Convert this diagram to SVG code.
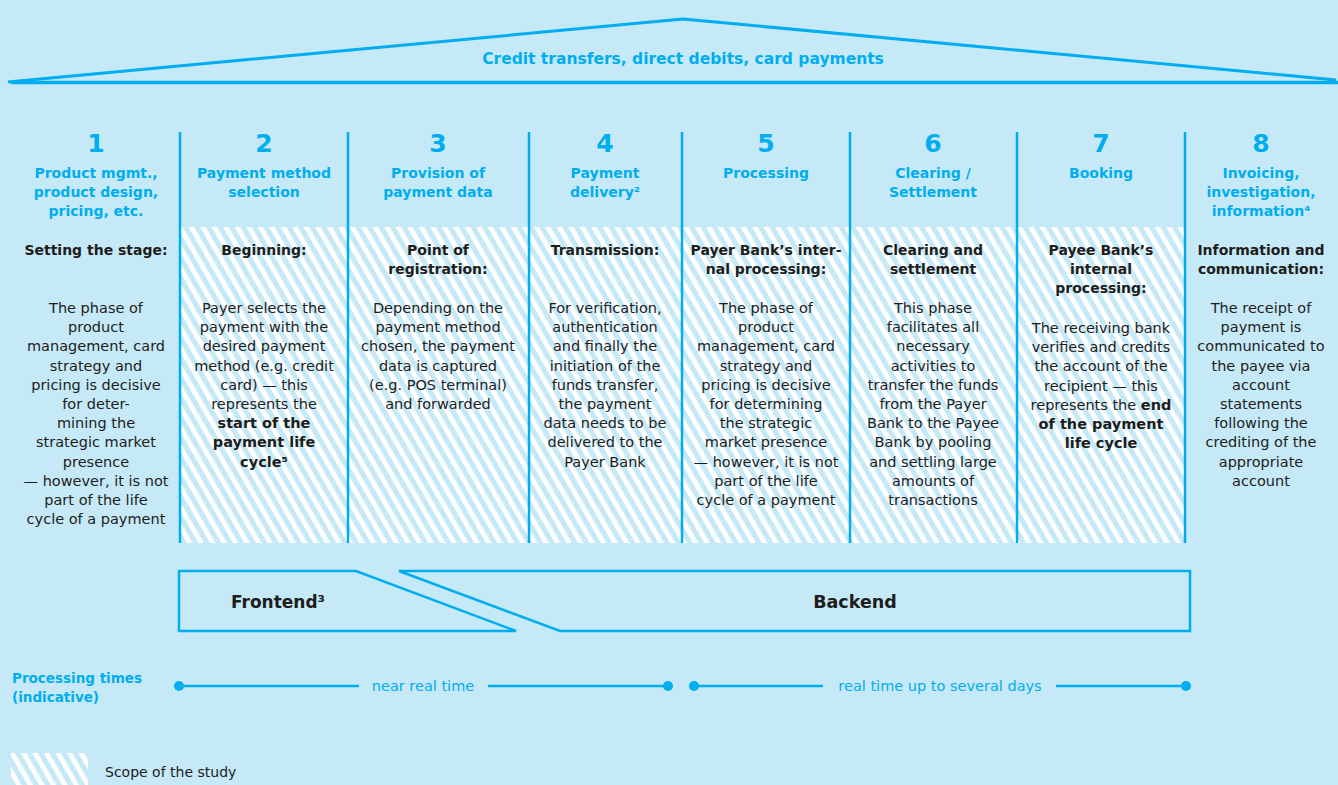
<svg xmlns="http://www.w3.org/2000/svg" width="1338" height="785" viewBox="0 0 1338 785">
<style>
text{font-family:"DejaVu Sans","Liberation Sans",sans-serif}
.num{font-size:25px;font-weight:bold;fill:#00aeef;text-anchor:middle}
.ttl{font-size:14px;font-weight:bold;fill:#00aeef;text-anchor:middle}
.hd{font-size:14px;font-weight:bold;fill:#1d1d1b;text-anchor:middle}
.bd{font-size:14.5px;fill:#1d1d1b;text-anchor:middle}
.b{font-weight:bold}
.line{stroke:#00aeef;fill:none}
.div{stroke:#00aeef;stroke-width:2.5}
.box{stroke:#00aeef;stroke-width:2.5;fill:none;stroke-linejoin:miter}
.dot{fill:#00aeef}
</style>
<defs>
<pattern id="hatch" patternUnits="userSpaceOnUse" width="11.5" height="20" patternTransform="skewX(30)">
<rect x="0" y="0" width="11.5" height="20" fill="#c6e9f8"/>
<rect x="0" y="0" width="5.5" height="20" fill="#ffffff"/>
</pattern>
</defs>
<rect x="0" y="0" width="1338" height="785" fill="#c6e9f8"/>

<g id="roof">
<polyline class="line" stroke-width="3" points="8,82 683,19 1336,80"/>
<line class="line" stroke-width="3.5" x1="11" y1="82.5" x2="1338" y2="82.5"/>
<text x="683" y="64" class="ttl" style="font-size:15.5px">Credit transfers, direct debits, card payments</text>
</g>

<g id="scope-hatch">
<rect x="180" y="227" width="1005" height="316" fill="url(#hatch)"/>
</g>

<g id="dividers">
<line class="div" x1="180" y1="132" x2="180" y2="543"/>
<line class="div" x1="348" y1="132" x2="348" y2="543"/>
<line class="div" x1="529" y1="132" x2="529" y2="543"/>
<line class="div" x1="682" y1="132" x2="682" y2="543"/>
<line class="div" x1="850" y1="132" x2="850" y2="543"/>
<line class="div" x1="1017" y1="132" x2="1017" y2="543"/>
<line class="div" x1="1185" y1="132" x2="1185" y2="543"/>
</g>

<g id="col1">
<text x="96" y="152" class="num">1</text>
<text class="ttl"><tspan x="96" y="178">Product mgmt.,</tspan><tspan x="96" dy="19">product design,</tspan><tspan x="96" dy="19">pricing, etc.</tspan></text>
<text x="96" y="255" class="hd">Setting the stage:</text>
<text class="bd"><tspan x="96" y="313">The phase of</tspan><tspan x="96" dy="19.2">product</tspan><tspan x="96" dy="19.2">management, card</tspan><tspan x="96" dy="19.2">strategy and</tspan><tspan x="96" dy="19.2">pricing is decisive</tspan><tspan x="96" dy="19.2">for deter-</tspan><tspan x="96" dy="19.2">mining the</tspan><tspan x="96" dy="19.2">strategic market</tspan><tspan x="96" dy="19.2">presence</tspan><tspan x="96" dy="19.2">— however, it is not</tspan><tspan x="96" dy="19.2">part of the life</tspan><tspan x="96" dy="19.2">cycle of a payment</tspan></text>
</g>

<g id="col2">
<text x="264" y="152" class="num">2</text>
<text class="ttl"><tspan x="264" y="178">Payment method</tspan><tspan x="264" dy="19">selection</tspan></text>
<text x="264" y="255" class="hd">Beginning:</text>
<text class="bd"><tspan x="264" y="313">Payer selects the</tspan><tspan x="264" dy="19.2">payment with the</tspan><tspan x="264" dy="19.2">desired payment</tspan><tspan x="264" dy="19.2">method (e.g. credit</tspan><tspan x="264" dy="19.2">card) — this</tspan><tspan x="264" dy="19.2">represents the</tspan><tspan x="264" dy="19.2" class="b">start of the</tspan><tspan x="264" dy="19.2" class="b">payment life</tspan><tspan x="264" dy="19.2" class="b">cycle⁵</tspan></text>
</g>

<g id="col3">
<text x="438" y="152" class="num">3</text>
<text class="ttl"><tspan x="438" y="178">Provision of</tspan><tspan x="438" dy="19">payment data</tspan></text>
<text class="hd"><tspan x="438" y="255">Point of</tspan><tspan x="438" dy="19">registration:</tspan></text>
<text class="bd"><tspan x="438" y="313">Depending on the</tspan><tspan x="438" dy="19.2">payment method</tspan><tspan x="438" dy="19.2">chosen, the payment</tspan><tspan x="438" dy="19.2">data is captured</tspan><tspan x="438" dy="19.2">(e.g. POS terminal)</tspan><tspan x="438" dy="19.2">and forwarded</tspan></text>
</g>

<g id="col4">
<text x="605" y="152" class="num">4</text>
<text class="ttl"><tspan x="605" y="178">Payment</tspan><tspan x="605" dy="19">delivery²</tspan></text>
<text x="605" y="255" class="hd">Transmission:</text>
<text class="bd"><tspan x="605" y="313">For verification,</tspan><tspan x="605" dy="19.2">authentication</tspan><tspan x="605" dy="19.2">and finally the</tspan><tspan x="605" dy="19.2">initiation of the</tspan><tspan x="605" dy="19.2">funds transfer,</tspan><tspan x="605" dy="19.2">the payment</tspan><tspan x="605" dy="19.2">data needs to be</tspan><tspan x="605" dy="19.2">delivered to the</tspan><tspan x="605" dy="19.2">Payer Bank</tspan></text>
</g>

<g id="col5">
<text x="766" y="152" class="num">5</text>
<text x="766" y="178" class="ttl">Processing</text>
<text class="hd"><tspan x="766" y="255">Payer Bank’s inter-</tspan><tspan x="766" dy="19">nal processing:</tspan></text>
<text class="bd"><tspan x="766" y="313">The phase of</tspan><tspan x="766" dy="19.2">product</tspan><tspan x="766" dy="19.2">management, card</tspan><tspan x="766" dy="19.2">strategy and</tspan><tspan x="766" dy="19.2">pricing is decisive</tspan><tspan x="766" dy="19.2">for determining</tspan><tspan x="766" dy="19.2">the strategic</tspan><tspan x="766" dy="19.2">market presence</tspan><tspan x="766" dy="19.2">— however, it is not</tspan><tspan x="766" dy="19.2">part of the life</tspan><tspan x="766" dy="19.2">cycle of a payment</tspan></text>
</g>

<g id="col6">
<text x="933" y="152" class="num">6</text>
<text class="ttl"><tspan x="933" y="178">Clearing /</tspan><tspan x="933" dy="19">Settlement</tspan></text>
<text class="hd"><tspan x="933" y="255">Clearing and</tspan><tspan x="933" dy="19">settlement</tspan></text>
<text class="bd"><tspan x="933" y="313">This phase</tspan><tspan x="933" dy="19.2">facilitates all</tspan><tspan x="933" dy="19.2">necessary</tspan><tspan x="933" dy="19.2">activities to</tspan><tspan x="933" dy="19.2">transfer the funds</tspan><tspan x="933" dy="19.2">from the Payer</tspan><tspan x="933" dy="19.2">Bank to the Payee</tspan><tspan x="933" dy="19.2">Bank by pooling</tspan><tspan x="933" dy="19.2">and settling large</tspan><tspan x="933" dy="19.2">amounts of</tspan><tspan x="933" dy="19.2">transactions</tspan></text>
</g>

<g id="col7">
<text x="1101" y="152" class="num">7</text>
<text x="1101" y="178" class="ttl">Booking</text>
<text class="hd"><tspan x="1101" y="255">Payee Bank’s</tspan><tspan x="1101" dy="19">internal</tspan><tspan x="1101" dy="19">processing:</tspan></text>
<text class="bd"><tspan x="1101" y="333">The receiving bank</tspan><tspan x="1101" dy="19.2">verifies and credits</tspan><tspan x="1101" dy="19.2">the account of the</tspan><tspan x="1101" dy="19.2">recipient — this</tspan><tspan x="1101" dy="19.2">represents the <tspan class="b">end</tspan></tspan><tspan x="1101" dy="19.2" class="b">of the payment</tspan><tspan x="1101" dy="19.2" class="b">life cycle</tspan></text>
</g>

<g id="col8">
<text x="1261" y="152" class="num">8</text>
<text class="ttl"><tspan x="1261" y="178">Invoicing,</tspan><tspan x="1261" dy="19">investigation,</tspan><tspan x="1261" dy="19">information⁴</tspan></text>
<text class="hd"><tspan x="1261" y="255">Information and</tspan><tspan x="1261" dy="19">communication:</tspan></text>
<text class="bd"><tspan x="1261" y="313">The receipt of</tspan><tspan x="1261" dy="19.2">payment is</tspan><tspan x="1261" dy="19.2">communicated to</tspan><tspan x="1261" dy="19.2">the payee via</tspan><tspan x="1261" dy="19.2">account</tspan><tspan x="1261" dy="19.2">statements</tspan><tspan x="1261" dy="19.2">following the</tspan><tspan x="1261" dy="19.2">crediting of the</tspan><tspan x="1261" dy="19.2">appropriate</tspan><tspan x="1261" dy="19.2">account</tspan></text>
</g>

<g id="frontend">
<polygon class="box" points="179,571 356,571 516,631 179,631"/>
<text x="231" y="608" style="font-size:17px;font-weight:bold;fill:#1d1d1b">Frontend³</text>
</g>

<g id="backend">
<polygon class="box" points="399,571 1190,571 1190,631 560,631"/>
<text x="855" y="608" style="font-size:17.5px;font-weight:bold;fill:#1d1d1b;text-anchor:middle">Backend</text>
</g>

<g id="processing-label">
<text style="font-size:13.5px;font-weight:bold;fill:#00aeef"><tspan x="12" y="683">Processing times</tspan><tspan x="12" y="702">(indicative)</tspan></text>
</g>

<g id="connectors">
<line class="line" stroke-width="2.5" x1="179" y1="686" x2="359" y2="686"/>
<line class="line" stroke-width="2.5" x1="488" y1="686" x2="668" y2="686"/>
<circle class="dot" cx="179" cy="686" r="5"/>
<circle class="dot" cx="668" cy="686" r="5"/>
<line class="line" stroke-width="2.5" x1="694" y1="686" x2="823" y2="686"/>
<line class="line" stroke-width="2.5" x1="1056" y1="686" x2="1186" y2="686"/>
<circle class="dot" cx="694" cy="686" r="5"/>
<circle class="dot" cx="1186" cy="686" r="5"/>
</g>

<g id="timeline-labels">
<text x="423" y="691" style="font-size:14.5px;fill:#00aeef;text-anchor:middle">near real time</text>
<text x="940" y="691" style="font-size:14.5px;fill:#00aeef;text-anchor:middle">real time up to several days</text>
</g>

<g id="legend">
<rect x="11" y="753" width="77" height="32" fill="url(#hatch)"/>
<text x="105" y="777" style="font-size:14px;fill:#1d1d1b">Scope of the study</text>
</g>
</svg>
